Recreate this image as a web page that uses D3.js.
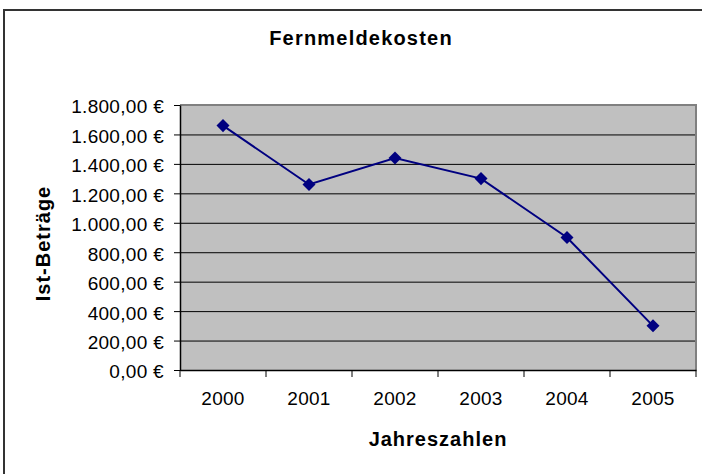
<!DOCTYPE html>
<html>
<head>
<meta charset="utf-8">
<script src="https://cdn.jsdelivr.net/npm/d3@7"></script>
<style>
  body { margin: 0; background: #fff; }
  text { font-family: "Liberation Sans", Arial, sans-serif; fill: #000; }
</style>
</head>
<body>
<div id="chart"></div>
<script>
// data
var years = ["2000", "2001", "2002", "2003", "2004", "2005"];
var amounts = [1660, 1260, 1440, 1300, 900, 300];
var yTicks = [0, 200, 400, 600, 800, 1000, 1200, 1400, 1600, 1800];

var W = 702, H = 474;
var margin = {left: 180, right: 6, top: 105, bottom: 104},
    width = W - margin.left - margin.right,
    height = H - margin.top - margin.bottom;

var de = d3.formatLocale({decimal: ",", thousands: ".", grouping: [3], currency: ["", " €"]});
var fmt = de.format("$,.2f");

var svg = d3.select("#chart")
  .append("svg")
  .attr("width", W)
  .attr("height", H);

// outer chart border (runs off the right / bottom edge)
svg.append("rect")
  .attr("x", 4).attr("y", 10)
  .attr("width", 760).attr("height", 520)
  .attr("fill", "#fff")
  .attr("stroke", "#333").attr("stroke-width", 2);

var g = svg.append("g")
  .attr("transform", "translate(" + margin.left + "," + margin.top + ")");

var xScale = d3.scaleBand().domain(years).range([0, width]);
var yScale = d3.scaleLinear().domain([0, 1800]).range([height, 0]);

// plot area
g.append("rect")
  .attr("width", width).attr("height", height)
  .attr("fill", "#c0c0c0");

// gridlines
g.append("g")
  .attr("class", "grid")
  .call(d3.axisLeft(yScale).tickValues(yTicks).tickSize(-width).tickFormat(""))
  .call(function(s) {
    s.select(".domain").remove();
    s.selectAll("line").attr("stroke", "#000").attr("stroke-width", 1);
  });

// plot border top + right
g.append("path")
  .attr("d", "M0,0H" + width + "V" + height)
  .attr("fill", "none").attr("stroke", "#808080").attr("stroke-width", 2);

// y axis
var gY = g.append("g")
  .call(d3.axisLeft(yScale).tickValues(yTicks).tickSize(6).tickSizeOuter(0).tickPadding(10).tickFormat(fmt));
gY.select(".domain").attr("stroke", "#000").attr("stroke-width", 1.5);
gY.selectAll("line").attr("stroke", "#000");
gY.selectAll("text")
  .attr("font-size", "19px")
  .attr("dy", "0.42em")
  .style("letter-spacing", "0.3px");

// x axis: labels at centres, ticks at category boundaries
var gX = g.append("g")
  .attr("transform", "translate(0," + height + ")")
  .call(d3.axisBottom(xScale).tickSize(0).tickPadding(22));
gX.select(".domain").attr("stroke", "#000").attr("stroke-width", 1.5);
gX.selectAll("text")
  .attr("font-size", "19px")
  .style("letter-spacing", "0.3px");

var bounds = years.map(function(d) { return xScale(d); }).concat([width]);
gX.selectAll(".bound")
  .data(bounds)
  .enter().append("line")
  .attr("class", "bound")
  .attr("x1", function(d) { return d; })
  .attr("x2", function(d) { return d; })
  .attr("y1", 0).attr("y2", 7)
  .attr("stroke", "#000");

// series line
var line = d3.line()
  .x(function(d, i) { return xScale(years[i]) + xScale.bandwidth() / 2; })
  .y(function(d) { return yScale(d); });

g.append("path")
  .datum(amounts)
  .attr("d", line)
  .attr("fill", "none")
  .attr("stroke", "#000080")
  .attr("stroke-width", 2);

g.selectAll(".dot")
  .data(amounts)
  .enter().append("path")
  .attr("class", "dot")
  .attr("d", d3.symbol().type(d3.symbolSquare).size(85))
  .attr("transform", function(d, i) {
    return "translate(" + (xScale(years[i]) + xScale.bandwidth() / 2) + "," + yScale(d) + ") rotate(45)";
  })
  .attr("fill", "#000080");

// titles
svg.append("text")
  .attr("x", 361).attr("y", 45)
  .attr("text-anchor", "middle")
  .attr("font-size", "20px").attr("font-weight", "bold")
  .style("letter-spacing", "1.2px")
  .text("Fernmeldekosten");

svg.append("text")
  .attr("x", margin.left + width / 2).attr("y", 446)
  .attr("text-anchor", "middle")
  .attr("font-size", "20px").attr("font-weight", "bold")
  .style("letter-spacing", "1px")
  .text("Jahreszahlen");

svg.append("text")
  .attr("transform", "translate(50," + (margin.top + height / 2 + 6) + ") rotate(-90)")
  .attr("text-anchor", "middle")
  .attr("font-size", "20px").attr("font-weight", "bold")
  .style("letter-spacing", "1px")
  .text("Ist-Beträge");
</script>
</body>
</html>
